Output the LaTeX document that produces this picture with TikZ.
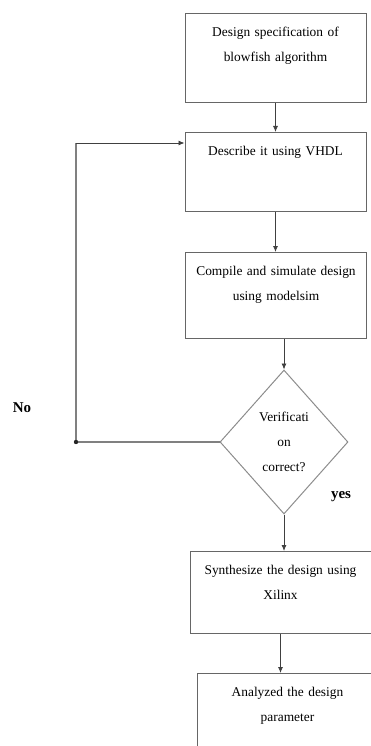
\documentclass[tikz,border=0pt]{standalone}
\usepackage{fontspec}
\setmainfont{Liberation Serif}
\usetikzlibrary{arrows.meta,shapes.geometric}

\tikzset{
  stepbox/.style={draw=black!60, line width=1pt, anchor=north, minimum width=181pt,
    text width=171pt, align=center, inner sep=5pt, text height=18pt,
    font=\fontsize{13.4}{25}\selectfont},
  decision/.style={diamond, draw=black!45, line width=1pt, minimum width=128pt,
    minimum height=144pt, inner sep=0pt, align=center,
    font=\fontsize{13.4}{25}\selectfont},
  flowline/.style={draw=black!75, line width=0.8pt, -{Latex[length=6pt,width=5pt]}},
  loopline/.style={draw=black!50, line width=1.3pt},
  answer/.style={font=\fontsize{15}{18}\selectfont\bfseries},
}

\begin{document}
\begin{tikzpicture}[x=1pt,y=-1pt]
	\useasboundingbox (0,0) rectangle (371,746);
	\clip (0,0) rectangle (371,746);
	% boxes
	\node[stepbox, text depth=61pt] (spec) at (275.5,13) {Design specification of\\ blowfish algorithm};
	\node[stepbox, text depth=51pt] (describe) at (275.5,132) {Describe it using VHDL};
	\node[stepbox, text depth=58pt] (simulate) at (276,252) {Compile and simulate design\\ using modelsim};
	\node[decision] (verify) at (284,442) {Verificati\\ on\\ correct?};
	\node[stepbox, text depth=54pt] (synth) at (280.5,551) {Synthesize the design using\\ Xilinx};
	\node[stepbox, text depth=72pt] (analyze) at (287.5,673) {Analyzed the design\\ parameter};
	% arrows down
	\draw[flowline] (spec.south) -- (spec.south |- describe.north);
	\draw[flowline] (describe.south) -- (describe.south |- simulate.north);
	\draw[flowline] (simulate.south -| verify.north) -- (verify.north);
	\draw[flowline] (verify.south) -- (verify.south |- synth.north);
	\draw[flowline] (synth.south) -- (synth.south |- analyze.north);
	% back loop
	\coordinate (backcorner) at (76,442);
	\coordinate (backtop) at (76,143);
	\draw[loopline] (verify.west) -- (backcorner) -- (backtop);
	\draw[flowline] (backtop) -- (backtop -| describe.west);
	\fill[black!85] (backcorner) circle (2.2pt);
	% labels
	\node[answer] (no) at (22,408) {No};
	\node[answer] (yes) at (341,497) {yes};
\end{tikzpicture}
\end{document}
